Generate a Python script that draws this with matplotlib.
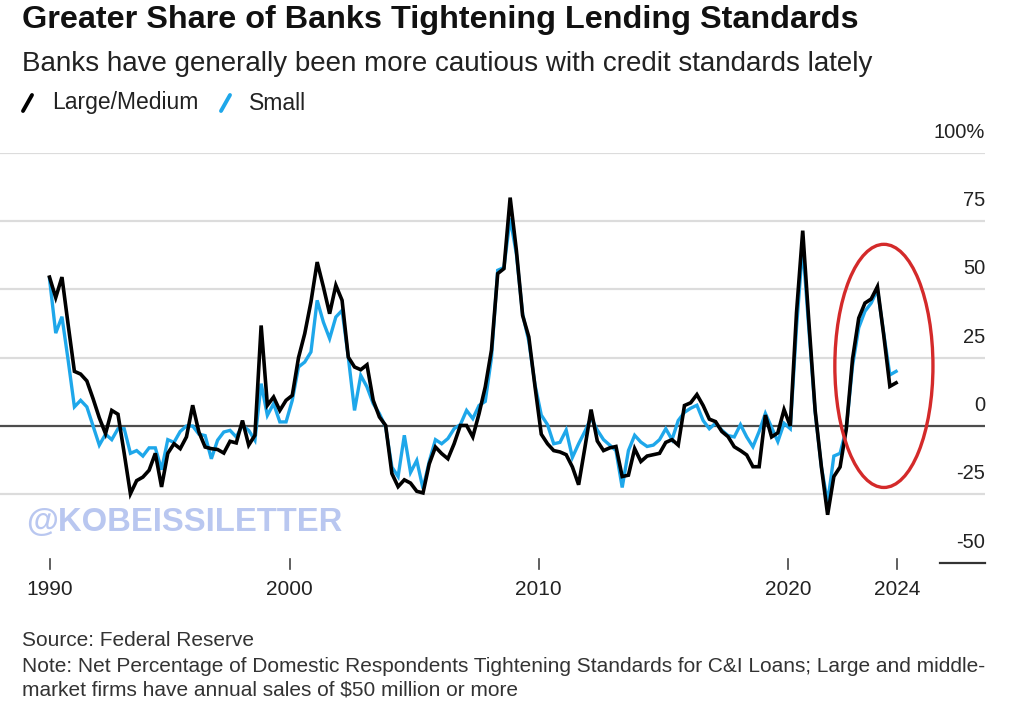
import numpy as np
import matplotlib
matplotlib.use("Agg")
from matplotlib import pyplot as plt
from matplotlib.patches import Ellipse
from matplotlib.lines import Line2D

plt.rcParams['font.family'] = ['Liberation Sans', 'DejaVu Sans']

# Net % of domestic respondents tightening C&I standards, quarterly from 1990 Q2
large_medium = [
    54.5, 47, 54.5, 37, 20, 19, 16.5, 10, 3, -2.8,
    5.7, 4.3, -10, -24.8, -20, -18.7, -16.2, -10, -22.3, -10,
    -6.5, -8.3, -4, 7.6, -2.2, -7.7, -8.3, -8.6, -9.9, -5.6,
    -6.2, 2, -7, -3.4, 36.8, 7.6, 10.6, 5.7, 9.4, 11.2,
    25, 33.8, 45.4, 60, 50.9, 41.1, 51.5, 46, 25.2, 21.6,
    20.6, 22.4, 9.4, 3.3, 0.2, -17.4, -22.2, -19.7, -20.9, -23.9,
    -24.5, -13.9, -7.7, -10.1, -12, -6.5, 0.2, 0.2, -4, 4.5,
    14.3, 27.8, 55.8, 57.6, 83.6, 64.3, 40.5, 32.6, 14.3, -3,
    -6.5, -9, -9.5, -10.5, -15, -21.5, -8, 6, -5.5, -9,
    -8, -7.5, -18.5, -18, -8.3, -13, -11, -10.5, -10, -6,
    -5, -7, 7.5, 8.5, 11.5, 7.5, 2.5, 1.6, -2, -3.9,
    -7.6, -9, -10.6, -14.9, -14.9, 4, -4, -2.5, 6, 0,
    41.5, 71.5, 37.7, 5.6, -15, -32.5, -18.5, -15, -1, 24.5,
    39.5, 45, 46.5, 51, 33.5, 14.5, 15.8,
]
small = [
    54, 34, 40, 24, 7, 9.4, 7, 0, -7, -3,
    -5, -1, -1, -10, -9, -11, -8, -8, -16, -5,
    -6, -2, 0, 0, -3, -3.5, -12, -5.2, -2.2, -1.6,
    -4, 0.2, -1.6, -5.2, 15.5, 3.9, 8.2, 1.5, 1.5, 9.4,
    21.6, 23.4, 27.1, 46, 38, 32, 39.9, 42.3, 25.2, 5.7,
    18.5, 14.3, 8.2, 4.5, -0.4, -15, -18.5, -3.4, -17, -12.6,
    -22.9, -13, -5, -6.5, -4.6, -1, 0.5, 5.7, 2.7, 7.5,
    9, 25, 57, 58, 76, 63, 41, 31, 15, 4,
    0.5, -6.5, -6, -1.5, -11.5, -6.5, -2, 3, -1.5, -5,
    -7, -9, -22.5, -9, -3.4, -5.9, -7.5, -7, -5, -1,
    -5, 2, 5, 6.5, 7.6, 2, -1, 1, -1.5, -3.5,
    -4, 0.5, -4, -7.6, -2, 4.6, -0.5, -5.7, 1, -1,
    36, 66, 35, 5, -15, -28, -11, -10, -1, 22,
    36, 42, 45, 50, 34, 18.7, 20,
]
quarters = 1990.25 + 0.25 * np.arange(len(large_medium))

y_ticks = [100, 75, 50, 25, 0, -25, -50]
y_labels = ['100%', '75', '50', '25', '0', '-25', '-50']
x_ticks = [1990.25, 1999.9, 2009.9, 2019.9, 2024.3]
x_labels = ['1990', '2000', '2010', '2020', '2024']

W, H = 1024, 710
fig = plt.figure(figsize=(W / 100, H / 100), dpi=100)
fig.patch.set_facecolor('white')

def fx(px):
    return px / W

def fy(py):
    return 1 - py / H

ax_right = 985
ax = fig.add_axes([0, fy(562.6), fx(ax_right), fy(152.8) - fy(562.6)])
ax.set_xlim(1990.25 - 49.5 / 24.9, 1990.25 + (ax_right - 49.5) / 24.9)
ax.set_ylim(-50, 100)
ax.axis('off')

# gridlines
for v in [100, 75, 50, 25, -25]:
    ax.axhline(v, color='#dcdcdc', lw=1.6, zorder=1)
ax.axhline(0, color='#4d4d4d', lw=1.6, zorder=2)
ax.axhline(-50, xmin=940 / ax_right, xmax=1, color='#333333', lw=1.6, clip_on=False)

for v, lab in zip(y_ticks, y_labels):
    ax.text(1.0, v + 4.0, lab, transform=ax.get_yaxis_transform(), ha='right', va='bottom',
            fontsize=14.5, color='#222222')

ax.plot(quarters, small, color='#1ea7ea', lw=2.4, zorder=3, solid_joinstyle='miter')
ax.plot(quarters, large_medium, color='black', lw=2.6, zorder=4, solid_joinstyle='miter')

# highlight ellipse
ax.add_patch(Ellipse((2023.76, 22), 3.94, 89, fill=False, edgecolor='#d42a2a', lw=2.4, zorder=5))

# x ticks
for t, lab in zip(x_ticks, x_labels):
    ax.plot([t, t], [-48.5, -52.5], color='#444444', lw=1.2, clip_on=False)
    ax.text(t, -60, lab, ha='center', va='center', fontsize=15, color='#222222')

# titles
fig.text(fx(22), fy(20), 'Greater Share of Banks Tightening Lending Standards', fontsize=23.3,
         fontweight='bold', ha='left', va='center', color='#111111')
fig.text(fx(22), fy(64), 'Banks have generally been more cautious with credit standards lately',
         fontsize=20, ha='left', va='center', color='#222222')

# legend
fig.add_artist(Line2D([fx(23), fx(32)], [fy(111), fy(95)], color='black', lw=2.8,
                      solid_capstyle='round'))
fig.text(fx(52), fy(103), 'Large/Medium', fontsize=16.5, ha='left', va='center', color='#222222')
fig.add_artist(Line2D([fx(221), fx(230)], [fy(111), fy(95)], color='#1ea7ea', lw=2.8,
                      solid_capstyle='round'))
fig.text(fx(249), fy(103), 'Small', fontsize=16.5, ha='left', va='center', color='#222222')

# watermark
fig.text(fx(26), fy(523), '@KOBEISSILETTER', fontsize=23.6, fontweight='bold', ha='left',
         va='center', color='#b9c7f0')

# footer
fig.text(fx(22), fy(641), 'Source: Federal Reserve', fontsize=15, ha='left', va='center',
         color='#333333')
fig.text(fx(22), fy(666), 'Note: Net Percentage of Domestic Respondents Tightening Standards for '
         'C&I Loans; Large and middle-', fontsize=15, ha='left', va='center', color='#333333')
fig.text(fx(22), fy(690), 'market firms have annual sales of $50 million or more', fontsize=15,
         ha='left', va='center', color='#333333')

fig.savefig('out.png', dpi=100)
